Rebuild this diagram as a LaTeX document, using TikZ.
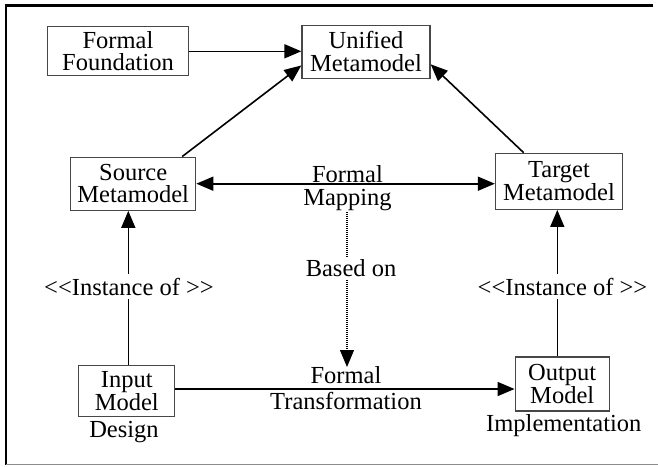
\documentclass[tikz,border=0pt]{standalone}
\usepackage{fontspec}
\setmainfont{Liberation Serif}
\usetikzlibrary{arrows.meta}
\begin{document}
\begin{tikzpicture}[x=1pt,y=-1pt,
  font=\fontsize{24.5}{22.5}\selectfont,
  box/.style 2 args={draw=black!72, line width=1.3pt, inner sep=0pt, align=center,
    minimum width=#1, minimum height=#2},
  tipa/.style={-{Triangle[length=17pt,width=14pt]}},
  conn/.style={line width=1.6pt, tipa},
  lbl/.style={inner sep=0pt, anchor=base},
  cut/.style={anchor=base, fill=white, inner xsep=1pt, inner ysep=3.5pt}]
\useasboundingbox (0,0) rectangle (658,466);
% frame
\draw[line width=2.6pt] (4.7,5.3) -- (653,5.3);
\draw[line width=2.6pt] (6,4) -- (6,465);
\draw[black!45, line width=1.2pt] (6,464.5) -- (658,464.5);
% boxes
\node[box={141}{49}] (FF) at (118,51.3) {Formal\\Foundation};
\node[box={128}{53}] (UM) at (366,51.7) {Unified\\Metamodel};
\node[box={125}{53}] (SM) at (133.2,183.7) {Source\\Metamodel};
\node[box={127}{56}] (TM) at (559,181.3) {Target\\Metamodel};
\node[box={96}{51}] (IM) at (126.8,391) {Input\\Model};
\node[box={94}{54}] (OM) at (562.2,383.9) {Output\\Model};
% connectors
\draw[conn] (FF.east) -- (FF.east -| UM.west);
\draw[conn] (SM.29) -- (UM.192);
\draw[conn] (TM.141) -- (UM.-11);
\draw[line width=1.6pt, {Triangle[length=17pt,width=14pt]}-{Triangle[length=17pt,width=14pt]}]
  (SM.east) -- (SM.east -| TM.west);
\node[lbl] (fm1) at (347.5,182) {Formal};
\node[lbl] (fm2) at (347.5,205) {Mapping};
\coordinate (iu) at ([xshift=1.5pt]IM.north);
\draw[conn] (iu) -- (iu |- SM.south);
\node[cut] (inst1) at (129,295) {<\kern0pt<Instance of >\kern0pt>};
\coordinate (ou) at ([xshift=-4.9pt]OM.north);
\draw[conn] (ou) -- (ou |- TM.south);
\node[cut] (inst2) at (562.5,295) {<\kern0pt<Instance of >\kern0pt>};
\coordinate (te) at ([yshift=2pt]IM.east);
\draw[conn] (te) -- (te -| OM.west);
\node[lbl] (ft1) at (346,383.5) {Formal};
\node[lbl] (ft2) at (346,409) {Transformation};
\coordinate (dtop) at (347,212);
\coordinate (dbot) at (347,367);
\draw[line width=1.1pt, dash pattern=on 1pt off 1pt, tipa] (dtop) -- (dbot);
\node[cut, inner ysep=3pt] (based) at (351,276.7) {Based on};
\node[lbl] (des) at (124,437) {Design};
\node[lbl] (imp) at (563.8,431) {Implementation};
\end{tikzpicture}
\end{document}
